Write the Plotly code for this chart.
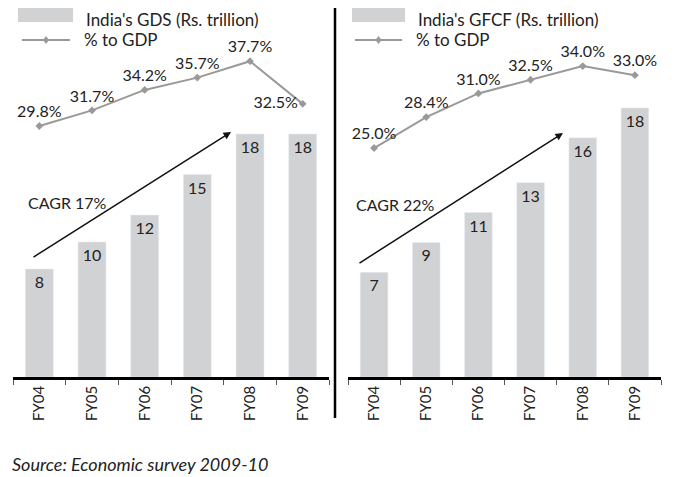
import plotly.graph_objects as go

years = ["FY04", "FY05", "FY06", "FY07", "FY08", "FY09"]
gds = [8, 10, 12, 15, 18, 18]
gds_pct = [29.8, 31.7, 34.2, 35.7, 37.7, 32.5]
gfcf = [7, 9, 11, 13, 16, 18]
gfcf_pct = [25.0, 28.4, 31.0, 32.5, 34.0, 33.0]

# the page body has an 8px margin, so the figure is shrunk by that much
OFF = 8
W, H = 678 - OFF, 477 - OFF
FONT = "Lato, 'Open Sans', sans-serif"
BAR_COLOR = "#d1d2d4"
LINE_COLOR = "#999999"
TXT = "#222222"


def px(x, y):
    # window pixel -> paper coords
    return (x - OFF) / W, 1 - (y - OFF) / H


fig = go.Figure()

# left panel
fig.add_trace(go.Bar(x=years, y=gds, marker_color=BAR_COLOR, width=0.53,
                     text=[str(v) for v in gds], textposition="inside",
                     insidetextanchor="end", textangle=0,
                     textfont=dict(size=16, color=TXT, family=FONT),
                     xaxis="x", yaxis="y", showlegend=False, cliponaxis=False))
fig.add_trace(go.Scatter(x=years, y=gds_pct, mode="lines+markers+text",
                         line=dict(color=LINE_COLOR, width=2),
                         marker=dict(symbol="diamond", size=6, color=LINE_COLOR),
                         text=[f"{v:.1f}%" for v in gds_pct],
                         textposition=["top center"] * 5 + ["middle left"],
                         textfont=dict(size=16, color=TXT, family=FONT),
                         xaxis="x", yaxis="y2", showlegend=False, cliponaxis=False))

# right panel
fig.add_trace(go.Bar(x=years, y=gfcf, marker_color=BAR_COLOR, width=0.53,
                     text=[str(v) for v in gfcf], textposition="inside",
                     insidetextanchor="end", textangle=0,
                     textfont=dict(size=16, color=TXT, family=FONT),
                     xaxis="x2", yaxis="y3", showlegend=False, cliponaxis=False))
fig.add_trace(go.Scatter(x=years, y=gfcf_pct, mode="lines+markers+text",
                         line=dict(color=LINE_COLOR, width=2),
                         marker=dict(symbol="diamond", size=6, color=LINE_COLOR),
                         text=[f"{v:.1f}%" for v in gfcf_pct],
                         textposition="top center",
                         textfont=dict(size=16, color=TXT, family=FONT),
                         xaxis="x2", yaxis="y4", showlegend=False, cliponaxis=False))

ybot = px(0, 377)[1]
ytop = px(0, OFF)[1]
xax = dict(type="category", showline=True, linecolor="black", linewidth=2.5,
           ticks="outside", ticklen=5, tickcolor="#555555", tickson="boundaries",
           tickangle=-90, showgrid=False, zeroline=False, automargin=False,
           tickfont=dict(size=15, color=TXT, family=FONT))
hidden = dict(visible=False, showgrid=False, zeroline=False)

# ranges chosen so the pixel top of the plot area (window y=8) maps correctly
fig.update_layout(
    width=W, height=H,
    margin=dict(l=0, r=0, t=0, b=0),
    paper_bgcolor="white", plot_bgcolor="white",
    showlegend=False,
    xaxis=dict(xax, domain=[px(13, 0)[0], px(329, 0)[0]], anchor="y"),
    xaxis2=dict(xax, domain=[px(348, 0)[0], px(661, 0)[0]], anchor="y3"),
    yaxis=dict(hidden, domain=[ybot, ytop], range=[0, 369 / 13.5]),
    yaxis2=dict(hidden, domain=[ybot, ytop], range=[-0.81, 29.8 + 118 / 8.2], overlaying="y"),
    yaxis3=dict(hidden, domain=[ybot, ytop], range=[0, 369 / 14.95], anchor="x2"),
    yaxis4=dict(hidden, domain=[ybot, ytop], range=[-0.16, 25 + 140 / 9.1], overlaying="y3", anchor="x2"),
    font=dict(family=FONT, color=TXT),
)

# divider
dx, dy0 = px(335, 8)
_, dy1 = px(335, 418)
fig.add_shape(type="line", xref="paper", yref="paper",
              x0=dx, x1=dx, y0=dy0, y1=dy1,
              line=dict(color="black", width=2.5))


def legend(x_rect, x_line, label_bar, label_line):
    xr0, yr0 = px(x_rect[0], 8)
    xr1, yr1 = px(x_rect[1], 22)
    fig.add_shape(type="rect", xref="paper", yref="paper", x0=xr0, x1=xr1,
                  y0=yr1, y1=yr0, fillcolor=BAR_COLOR, line_width=0)
    xl0, yl = px(x_line[0], 40)
    xl1, _ = px(x_line[1], 40)
    fig.add_shape(type="line", xref="paper", yref="paper", x0=xl0, x1=xl1,
                  y0=yl, y1=yl, line=dict(color=LINE_COLOR, width=2))
    xm = (x_line[0] + x_line[1]) / 2
    pts = [px(xm, 36), px(xm + 3, 40), px(xm, 44), px(xm - 3, 40)]
    path = "M " + " L ".join(f"{a} {b}" for a, b in pts) + " Z"
    fig.add_shape(type="path", xref="paper", yref="paper", path=path,
                  fillcolor=LINE_COLOR, line_width=0)
    tx, ty = px(x_rect[1] + 12, 8)
    fig.add_annotation(xref="paper", yref="paper", x=tx, y=ty, text=label_bar,
                       showarrow=False, xanchor="left", yanchor="top",
                       borderpad=0, font=dict(size=17, color=TXT, family=FONT))
    tx, ty = px(x_line[1] + 12, 40)
    fig.add_annotation(xref="paper", yref="paper", x=tx, y=ty, text=label_line,
                       showarrow=False, xanchor="left", yanchor="middle",
                       font=dict(size=17, color=TXT, family=FONT))


legend((18, 73), (22, 70), "India's GDS (Rs. trillion)", "% to GDP")
legend((352, 405), (355, 402), "India's GFCF (Rs. trillion)", "% to GDP")


def cagr(x0, y0, x1, y1, label, lx, ly):
    hx, hy = px(x1, y1)
    fig.add_annotation(xref="paper", yref="paper", x=hx, y=hy,
                       ax=x0 - x1, ay=y0 - y1, axref="pixel", ayref="pixel",
                       text="", showarrow=True,
                       arrowhead=2, arrowsize=1, arrowwidth=1.5, arrowcolor="#111111")
    tx, ty = px(lx, ly)
    fig.add_annotation(xref="paper", yref="paper", x=tx, y=ty, text=label,
                       showarrow=False, xanchor="left", yanchor="middle",
                       font=dict(size=16, color=TXT, family=FONT))


cagr(32, 258, 231, 132, "CAGR 17%", 26, 203)
cagr(358, 264, 563, 133, "CAGR 22%", 354, 204)

sx, sy = px(10, 464)
fig.add_annotation(xref="paper", yref="paper", x=sx, y=sy,
                   text="<i>Source: Economic survey 2009-10</i>", showarrow=False,
                   xanchor="left", yanchor="middle",
                   font=dict(size=18, color=TXT, family=FONT))

fig.write_html("out.html")
